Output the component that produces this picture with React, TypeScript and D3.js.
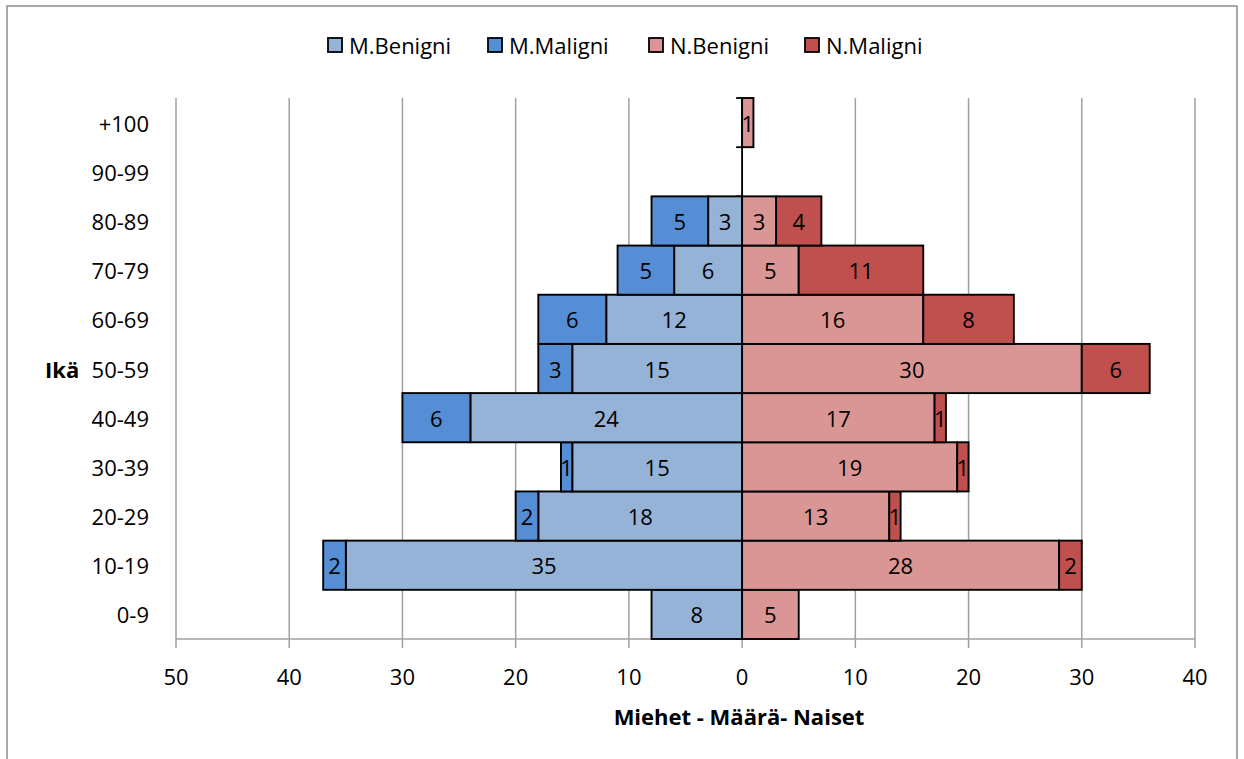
import React from "react";
import * as d3 from "d3";

// Age groups, bottom to top
const ageGroups = ["0-9", "10-19", "20-29", "30-39", "40-49", "50-59", "60-69", "70-79", "80-89", "90-99", "+100"];
const menBenign = [8, 35, 18, 15, 24, 15, 12, 6, 3, 0, 0];
const menMalign = [0, 2, 2, 1, 6, 3, 6, 5, 5, 0, 0];
const womenBenign = [5, 28, 13, 19, 17, 30, 16, 5, 3, 0, 1];
const womenMalign = [0, 2, 1, 1, 1, 6, 8, 11, 4, 0, 0];
const xTicks = [-50, -40, -30, -20, -10, 0, 10, 20, 30, 40];

const seriesNames = ["M.Benigni", "M.Maligni", "N.Benigni", "N.Maligni"];
const seriesColors = ["#95b3d7", "#558ed5", "#d99694", "#c0504d"];

const W = 1244;
const H = 759;
const FONT = "'Open Sans', 'Noto Sans', sans-serif";
const FS = 22;

export default function App() {
  const x = d3.scaleLinear().domain([-50, 40]).range([176, 1195]);
  const y = d3
    .scaleBand<string>()
    .domain([...ageGroups].reverse())
    .range([98, 639])
    .padding(0);

  type Seg = { key: string; x0: number; x1: number; v: number; color: string; cat: string };
  const segs: Seg[] = [];
  ageGroups.forEach((cat, i) => {
    const mb = menBenign[i];
    const mm = menMalign[i];
    const wb = womenBenign[i];
    const wm = womenMalign[i];
    segs.push({ key: `mb${i}`, x0: -mb, x1: 0, v: mb, color: seriesColors[0], cat });
    segs.push({ key: `mm${i}`, x0: -mb - mm, x1: -mb, v: mm, color: seriesColors[1], cat });
    segs.push({ key: `wb${i}`, x0: 0, x1: wb, v: wb, color: seriesColors[2], cat });
    segs.push({ key: `wm${i}`, x0: wb, x1: wb + wm, v: wm, color: seriesColors[3], cat });
  });

  const bw = y.bandwidth();
  const yTop = y.range()[0];
  const yBottom = y.range()[1];
  const boundaries = ageGroups.map((c) => y(c)!).concat([yBottom]);

  const legendX = [328, 488, 649, 805];

  return (
    <svg width={W} height={H} style={{ position: "absolute", left: 0, top: 0, background: "#fff" }}>
      <rect x={7} y={6} width={1230} height={H} fill="#fff" stroke="#8c8c8c" strokeWidth={1.5} />

      {/* Legend */}
      {seriesNames.map((n, i) => (
        <g key={n}>
          <rect x={legendX[i]} y={38} width={14} height={14} fill={seriesColors[i]} stroke="#000" strokeWidth={1.8} />
          <text x={legendX[i] + 21} y={44.5} dominantBaseline="central" fontFamily={FONT} fontSize={FS} fill="#000">
            {n}
          </text>
        </g>
      ))}

      {/* Vertical gridlines */}
      {xTicks.map((t) => (
        <line key={`g${t}`} x1={x(t)} x2={x(t)} y1={yTop} y2={yBottom + 9} stroke="#a0a0a0" strokeWidth={1.5} />
      ))}
      <line x1={x(-50)} x2={x(40)} y1={yBottom} y2={yBottom} stroke="#a0a0a0" strokeWidth={1.5} />

      {/* Category axis ticks at zero */}
      {boundaries.map((b, i) => (
        <line key={`t${i}`} x1={x(0) - 6} x2={x(0)} y1={b} y2={b} stroke="#000" strokeWidth={1.8} />
      ))}
      <line x1={x(0)} x2={x(0)} y1={yTop} y2={yBottom} stroke="#000" strokeWidth={1.8} />

      {/* Bars */}
      {segs
        .filter((s) => s.v > 0)
        .map((s) => (
          <rect
            key={s.key}
            x={x(s.x0)}
            y={y(s.cat)!}
            width={x(s.x1) - x(s.x0)}
            height={bw}
            fill={s.color}
            stroke="#000"
            strokeWidth={1.9}
          />
        ))}

      {/* Value labels */}
      {segs
        .filter((s) => s.v > 0)
        .map((s) => (
          <text
            key={`l${s.key}`}
            x={(x(s.x0) + x(s.x1)) / 2}
            y={y(s.cat)! + bw / 2}
            textAnchor="middle"
            dominantBaseline="central"
            fontFamily={FONT}
            fontSize={FS}
            fill="#000"
          >
            {s.v}
          </text>
        ))}

      {/* Category labels */}
      {ageGroups.map((c) => (
        <text
          key={`c${c}`}
          x={149}
          y={y(c)! + bw / 2}
          textAnchor="end"
          dominantBaseline="central"
          fontFamily={FONT}
          fontSize={FS}
          fill="#000"
        >
          {c}
        </text>
      ))}
      <text x={45} y={y("50-59")! + bw / 2} dominantBaseline="central" fontFamily={FONT} fontSize={FS} fontWeight="bold" fill="#000">
        Ikä
      </text>

      {/* Value axis labels */}
      {xTicks.map((t) => (
        <text
          key={`x${t}`}
          x={x(t)}
          y={676}
          textAnchor="middle"
          dominantBaseline="central"
          fontFamily={FONT}
          fontSize={FS}
          fill="#000"
        >
          {Math.abs(t)}
        </text>
      ))}
      <text x={739} y={716} textAnchor="middle" dominantBaseline="central" fontFamily={FONT} fontSize={FS} fontWeight="bold" fill="#000">
        Miehet - Määrä- Naiset
      </text>
    </svg>
  );
}
